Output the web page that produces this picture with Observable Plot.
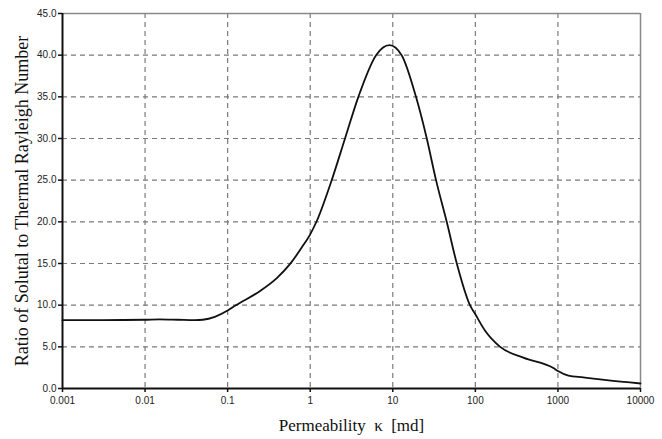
<!DOCTYPE html>
<html>
<head>
<meta charset="utf-8">
<script src="https://cdn.jsdelivr.net/npm/d3@7"></script>
<script src="https://cdn.jsdelivr.net/npm/@observablehq/plot@0.6"></script>
<style>
  html, body { margin: 0; padding: 0; background: #fff; }
  #chart svg { display: block; }
</style>
</head>
<body>
<div id="chart"></div>
<script>
// Permeability (md) and ratio of solutal to thermal Rayleigh number
const kappa = [0.001, 0.003, 0.01, 0.015, 0.025, 0.04, 0.05, 0.07, 0.1, 0.124, 0.247, 0.394, 0.571, 0.8, 1, 1.2, 1.82, 2.64, 3.83, 6.28, 9.1, 12.8, 19.1, 25.8, 33.4, 45, 59.6, 86, 100, 130, 200, 381, 881, 1000, 1337, 2032, 3890, 10000];
const ratio = [8.2, 8.2, 8.25, 8.3, 8.25, 8.2, 8.25, 8.6, 9.35, 9.95, 11.7, 13.25, 14.95, 17.0, 18.5, 20.1, 25, 30, 35, 40, 41.2, 40, 35, 30, 25, 20, 15, 10, 8.9, 7.0, 5.0, 3.7, 2.45, 2.1, 1.55, 1.33, 1.0, 0.6];

const xTicks = [0.001, 0.01, 0.1, 1, 10, 100, 1000, 10000];
const xTickLabels = ["0.001", "0.01", "0.1", "1", "10", "100", "1000", "10000"];
const yTicks = [0, 5, 10, 15, 20, 25, 30, 35, 40, 45];
const xTitle = "Permeability  κ  [md]";
const yTitle = "Ratio of Solutal to Thermal Rayleigh Number";

const data = kappa.map((k, i) => ({k, r: ratio[i]}));
const gridColor = "#7a7a7a";

const chart = Plot.plot({
  width: 662,
  height: 439,
  marginLeft: 62,
  marginRight: 22,
  marginTop: 13,
  marginBottom: 51,
  style: {fontFamily: "'Liberation Sans', Arial, sans-serif", fontSize: "10px", color: "#222", background: "#fff"},
  x: {type: "log", domain: [0.001, 10000]},
  y: {domain: [0, 45]},
  marks: [
    Plot.gridX(xTicks.slice(1, -1), {stroke: gridColor, strokeOpacity: 1, strokeWidth: 1.2, strokeDasharray: "5,4"}),
    Plot.gridY(yTicks.slice(1, -1), {stroke: gridColor, strokeOpacity: 1, strokeWidth: 1.2, strokeDasharray: "5,4"}),
    Plot.ruleY([45], {stroke: "#888", strokeWidth: 1.5}),
    Plot.ruleX([10000], {stroke: "#888", strokeWidth: 1.5}),
    Plot.axisX({ticks: xTicks, tickFormat: d => xTickLabels[xTicks.indexOf(d)], tickSize: 4, tickPadding: 4, label: null, stroke: "#111", strokeWidth: 1.5}),
    Plot.axisY({ticks: yTicks, tickFormat: d => d.toFixed(1), tickSize: 4, tickPadding: 2, label: null, stroke: "#111", strokeWidth: 1.5}),
    Plot.ruleY([0], {stroke: "#111", strokeWidth: 2}),
    Plot.ruleX([0.001], {stroke: "#111", strokeWidth: 2}),
    Plot.line(data, {x: "k", y: "r", curve: "monotone-x", stroke: "#111", strokeWidth: 1.8}),
    Plot.text([xTitle], {frameAnchor: "bottom", dy: 37, text: d => d, textAnchor: "middle", fontFamily: "'Liberation Serif', 'Times New Roman', serif", fontSize: 17, fill: "#111", lineAnchor: "middle"}),
    Plot.text([yTitle], {frameAnchor: "left", dx: -40, rotate: -90, text: d => d, textAnchor: "middle", fontFamily: "'Liberation Serif', 'Times New Roman', serif", fontSize: 18, fill: "#111", lineAnchor: "middle"})
  ]
});
document.getElementById("chart").append(chart);
</script>
</body>
</html>
